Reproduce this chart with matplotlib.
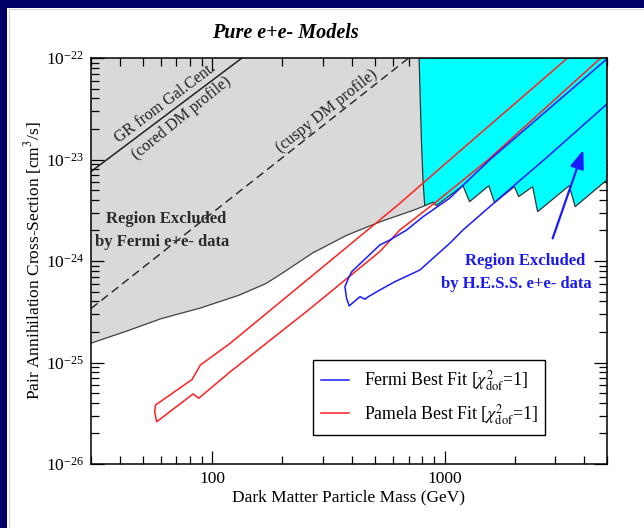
import matplotlib
matplotlib.use("Agg")
import matplotlib.pyplot as plt
from matplotlib.patches import Rectangle
from matplotlib.lines import Line2D
from matplotlib.ticker import LogFormatterMathtext, NullFormatter, LogLocator

plt.rcParams["font.family"] = "serif"
plt.rcParams["font.serif"] = ["Liberation Serif", "DejaVu Serif"]
plt.rcParams["mathtext.fontset"] = "stix"
plt.rcParams["axes.unicode_minus"] = False

# ---- data (mass in GeV, cross-section in cm^3/s) ----
# lower edge of the region excluded by Fermi e+e- data
fermi_excl_mass = [30, 43, 60, 89, 130, 170, 200, 270, 380, 460, 545, 730, 820]
fermi_excl_sigma = [1.55e-25, 2.05e-25, 2.7e-25, 3.45e-25, 4.6e-25, 6.0e-25, 7.6e-25,
                    1.2e-24, 1.8e-24, 2.15e-24, 2.5e-24, 3.15e-24, 3.5e-24]

# boundary of the region excluded by H.E.S.S. e+e- data
hess_excl_mass = [776, 794, 807, 821, 891, 921, 1199, 1280, 1549, 1640, 1997, 2083,
                  2393, 2513, 3436, 3647, 5000]
hess_excl_sigma = [1.0e-22, 1.56e-23, 6.04e-24, 3.51e-24, 3.79e-24, 3.51e-24, 5.52e-24,
                   3.84e-24, 5.52e-24, 3.76e-24, 5.40e-24, 4.31e-24, 5.40e-24, 3.06e-24,
                   5.52e-24, 3.43e-24, 6.3e-24]

# gamma-ray bounds from the Galactic Centre
gc_cored_mass = [30, 134]
gc_cored_sigma = [7.6e-24, 1.0e-22]
gc_cuspy_mass = [30, 700]
gc_cuspy_sigma = [3.4e-25, 1.0e-22]

# Pamela best-fit contour
pamela_mass = [3381, 1050, 641, 526, 119.4, 88.7, 81.8, 56.9, 56.4, 57.5,
               82.6, 87.3, 119.4, 259, 526, 641, 921, 1535, 4700]
pamela_sigma = [1.0e-22, 9.9e-24, 3.7e-24, 2.54e-24, 1.55e-25, 9.44e-26, 6.82e-26, 3.81e-26,
                3.28e-26, 2.61e-26, 4.90e-26, 4.44e-26, 8.11e-26, 3.29e-25, 1.24e-24,
                2.02e-24, 3.84e-24, 9.89e-24, 1.0e-22]

# Fermi best-fit contour
fermi_fit_mass = [5000, 1560, 1050, 953, 807, 686, 581, 526, 398, 385, 372, 378, 388,
                  432, 454, 469, 526, 610, 782, 1050, 1199, 1963, 2729, 5000]
fermi_fit_sigma = [9.8e-23, 9.9e-24, 4.15e-24, 3.56e-24, 2.73e-24, 2.02e-24, 1.61e-24,
                   1.44e-24, 7.85e-25, 6.76e-25, 5.58e-25, 4.30e-25, 3.61e-25, 4.45e-25,
                   4.20e-25, 4.45e-25, 5.18e-25, 6.25e-25, 8.15e-25, 1.49e-24, 2.02e-24,
                   5.40e-24, 1.03e-23, 3.52e-23]

x_range = (30, 5000)
y_range = (1e-26, 1e-22)
x_tick_values = [100, 1000]
x_tick_labels = ["100", "1000"]
y_tick_values = [1e-26, 1e-25, 1e-24, 1e-23, 1e-22]

# ---- figure ----
fig = plt.figure(figsize=(6.44, 5.28), dpi=100, facecolor="white")
navy = "#000066"
fig.patches.append(Rectangle((0, 1 - 8 / 528), 1, 8 / 528, transform=fig.transFigure,
                             facecolor=navy, edgecolor="none", zorder=0))
fig.patches.append(Rectangle((0, 0), 7 / 644, 1, transform=fig.transFigure,
                             facecolor=navy, edgecolor="none", zorder=0))
fig.add_artist(Line2D([9 / 644, 9 / 644], [0, 1 - 9 / 528], transform=fig.transFigure,
                      color="#c8c8d8", lw=0.6))
fig.add_artist(Line2D([9 / 644, 1], [1 - 9 / 528, 1 - 9 / 528], transform=fig.transFigure,
                      color="#c8c8d8", lw=0.6))

ax = fig.add_axes([91 / 644, 64 / 528, 516 / 644, 406 / 528])
ax.set_xscale("log")
ax.set_yscale("log")
ax.set_xlim(*x_range)
ax.set_ylim(*y_range)

# Fermi-excluded region
ax.fill_between(fermi_excl_mass, fermi_excl_sigma, y_range[1], color="#d9d9d9", lw=0, zorder=1)
ax.plot(fermi_excl_mass, fermi_excl_sigma, color="#444444", lw=0.9, zorder=1.5)

# Galactic-centre lines
ax.plot(gc_cored_mass, gc_cored_sigma, color="#222222", lw=1.1, zorder=2)
ax.plot(gc_cuspy_mass, gc_cuspy_sigma, color="#222222", lw=1.0, dashes=(6, 3.5), zorder=2)

# H.E.S.S.-excluded region
hx = hess_excl_mass + [hess_excl_mass[-1], hess_excl_mass[0]]
hy = hess_excl_sigma + [y_range[1], y_range[1]]
ax.fill(hx, hy, facecolor="#00ffff", edgecolor="#333333", lw=0.9, zorder=3)

# best-fit contours
ax.plot(pamela_mass, pamela_sigma, color="#ff2020", lw=1.1, zorder=4)
ax.plot(fermi_fit_mass, fermi_fit_sigma, color="#1a1aff", lw=1.1, zorder=4)

# annotations
ax.text(0.144, 0.889, "GR from Gal.Cent.", transform=ax.transAxes, rotation=37,
        ha="center", va="center", fontsize=11.5, color="#222222")
ax.text(0.176, 0.851, "(cored DM profile)", transform=ax.transAxes, rotation=39,
        ha="center", va="center", fontsize=11.5, color="#222222")
ax.text(0.457, 0.869, "(cuspy DM profile)", transform=ax.transAxes, rotation=38.3,
        ha="center", va="center", fontsize=11.5, color="#222222")
ax.text(0.145, 0.603, "Region Excluded", transform=ax.transAxes, ha="center", va="center",
        fontsize=12, fontweight="bold", color="#2a2a2a")
ax.text(0.138, 0.548, "by Fermi e+e- data", transform=ax.transAxes, ha="center", va="center",
        fontsize=12, fontweight="bold", color="#2a2a2a")
ax.text(0.842, 0.500, "Region Excluded", transform=ax.transAxes, ha="center", va="center",
        fontsize=12, fontweight="bold", color="#1a1aee")
ax.text(0.824, 0.443, "by H.E.S.S. e+e- data", transform=ax.transAxes, ha="center", va="center",
        fontsize=12, fontweight="bold", color="#1a1aee")
ax.annotate("", xy=(3953, 1.24e-23), xytext=(2917, 1.67e-24),
            arrowprops=dict(arrowstyle="-|>,head_length=0.8,head_width=0.3", color="#1a1aff",
                            lw=1.6, mutation_scale=14, shrinkA=0, shrinkB=0), zorder=5)

# legend
handles = [Line2D([], [], color="#1a1aff", lw=1.1), Line2D([], [], color="#ff2020", lw=1.1)]
labels = [r"Fermi Best Fit [$\chi^{2}_{\rm dof}$=1]", r"Pamela Best Fit [$\chi^{2}_{\rm dof}$=1]"]
leg = ax.legend(handles, labels, loc="lower left", bbox_to_anchor=(0.430, 0.0714),
                fontsize=12.8, frameon=True, fancybox=False, framealpha=1,
                edgecolor="black", handlelength=1.6, handletextpad=0.8,
                labelspacing=0.5, borderpad=0.45, borderaxespad=0)
leg.get_frame().set_linewidth(1.0)
leg.set_zorder(6)

# axes styling
for s in ax.spines.values():
    s.set_linewidth(1.1)
    s.set_zorder(7)
ax.set_xticks(x_tick_values, labels=x_tick_labels)
ax.xaxis.set_minor_locator(LogLocator(base=10, subs=range(2, 10), numticks=20))
ax.xaxis.set_minor_formatter(NullFormatter())
ax.set_yticks(y_tick_values)
ax.yaxis.set_major_formatter(LogFormatterMathtext())
ax.yaxis.set_minor_locator(LogLocator(base=10, subs=range(2, 10), numticks=20))
ax.yaxis.set_minor_formatter(NullFormatter())
ax.set_ylim(*y_range)
ax.tick_params(which="both", direction="in", top=True, right=True, labelsize=12.5, width=0.9)
ax.tick_params(which="major", length=9.5, pad=5)
ax.tick_params(which="minor", length=5.5)

ax.set_xlabel("Dark Matter Particle Mass (GeV)", fontsize=12.5, labelpad=2)
ax.set_ylabel(r"Pair Annihilation Cross-Section [cm$^{3}$/s]", fontsize=12.5, labelpad=1)
fig.text(285 / 644, 1 - 33 / 528, "Pure e+e- Models", ha="center", va="center",
         fontsize=14.5, fontweight="bold", fontstyle="italic")

fig.savefig("out.png", dpi=100, facecolor="white")
